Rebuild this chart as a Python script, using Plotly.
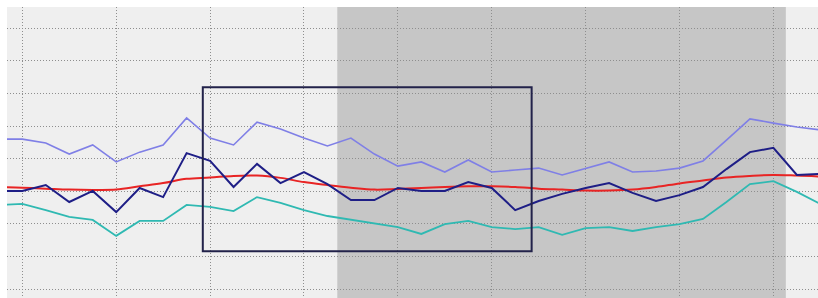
import plotly.graph_objects as go

# x positions (sample index)
x_idx = list(range(-1, 35))

upper_band = [46.0, 46.0, 44.8, 41.4, 44.2, 39.0, 42.0, 44.2, 52.5, 46.3, 44.2, 51.2,
              49.1, 46.3, 43.9, 46.3, 41.4, 37.7, 39.0, 35.9, 39.6, 35.9, 36.5, 37.1,
              35.0, 37.1, 39.0, 35.9, 36.2, 37.1, 39.3, 45.7, 52.2, 50.9, 49.7, 48.8]

price = [30.1, 30.1, 31.9, 26.7, 30.1, 23.6, 31.0, 28.2, 41.7, 39.3, 31.3, 38.4,
         32.5, 35.9, 32.2, 27.3, 27.3, 31.0, 30.1, 30.1, 32.8, 31.0, 24.2, 27.0,
         29.2, 31.0, 32.5, 29.5, 27.0, 28.8, 31.3, 36.8, 42.0, 43.3, 35.0, 35.3]

lower_band = [25.8, 26.1, 24.2, 22.1, 21.2, 16.3, 20.9, 20.9, 25.8, 25.2, 23.9, 28.2,
              26.4, 24.2, 22.4, 21.3, 20.3, 19.0, 16.9, 19.9, 20.9, 19.0, 18.4, 19.0,
              16.6, 18.7, 19.0, 17.8, 19.0, 19.9, 21.5, 26.7, 32.2, 33.1, 29.8, 26.1]

moving_avg = [31.3, 31.1, 30.8, 30.5, 30.4, 30.5, 31.5, 32.5, 33.8, 34.2, 34.7, 34.8,
              34.1, 32.8, 31.9, 31.1, 30.5, 30.7, 31.0, 31.3, 31.5, 31.5, 31.3, 30.8,
              30.5, 30.2, 30.2, 30.5, 31.3, 32.4, 33.3, 34.2, 34.7, 35.0, 34.8, 34.5]

shade_x = [13.42, 32.53]
box_x = [7.69, 21.70]
box_y = [11.6, 61.9]

fig = go.Figure()
fig.add_trace(go.Scatter(x=x_idx, y=upper_band, mode="lines",
                         line=dict(color="#7f7fe6", width=1.6), showlegend=False))
fig.add_trace(go.Scatter(x=x_idx, y=lower_band, mode="lines",
                         line=dict(color="#2fb9b2", width=1.8), showlegend=False))
fig.add_trace(go.Scatter(x=x_idx, y=moving_avg, mode="lines", line_shape="spline",
                         line=dict(color="#e82424", width=2), showlegend=False))
fig.add_trace(go.Scatter(x=x_idx, y=price, mode="lines",
                         line=dict(color="#1e1e86", width=2), showlegend=False))

fig.add_shape(type="rect", x0=shade_x[0], x1=shade_x[1], y0=0, y1=1,
              xref="x", yref="paper", fillcolor="#c6c6c6", line=dict(width=0),
              layer="below")
fig.add_shape(type="rect", x0=box_x[0], x1=box_x[1], y0=box_y[0], y1=box_y[1],
              xref="x", yref="y", line=dict(color="#22224a", width=2),
              fillcolor="rgba(0,0,0,0)", layer="above")

fig.update_layout(
    width=818, height=298,
    margin=dict(l=7, r=0, t=7, b=0),
    paper_bgcolor="white",
    plot_bgcolor="#efefef",
    xaxis=dict(range=[-0.652, 33.90], showgrid=True, gridcolor="#8e8e8e",
               griddash="1px,2px", gridwidth=1, tick0=0, dtick=4,
               showticklabels=False, zeroline=False, showline=False, ticks=""),
    yaxis=dict(range=[-2.76, 86.53], showgrid=True, gridcolor="#8e8e8e",
               griddash="1px,2px", gridwidth=1, tick0=0, dtick=10,
               showticklabels=False, zeroline=False, showline=False, ticks=""),
)

fig.write_html(
    "out.html",
    config={"displayModeBar": False},
    post_script="document.body.style.margin='0';document.body.style.overflow='hidden';",
)
